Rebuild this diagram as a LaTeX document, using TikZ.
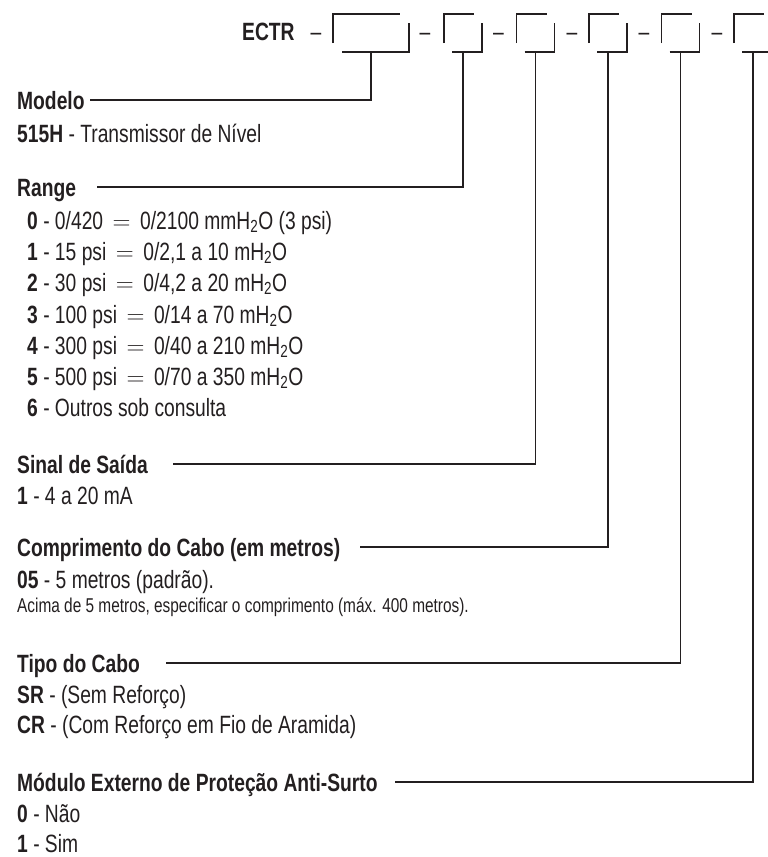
\documentclass[tikz,border=0pt]{standalone}
\usepackage{fontspec}
\setmainfont{Liberation Sans}[FakeStretch=0.77]

\definecolor{ink}{HTML}{231F20}
\newcommand{\eq}{\,$=$\,}

\tikzset{
  head/.style={anchor=west,inner sep=0pt,text height=18pt,text depth=0pt,text=ink,font=\fontsize{25}{30}\selectfont\bfseries},
  item/.style={anchor=west,inner sep=0pt,text height=18pt,text depth=0pt,text=ink,font=\fontsize{25}{30}\selectfont},
  note/.style={anchor=west,inner sep=0pt,text height=14pt,text depth=0pt,text=ink,font=\fontsize{20}{24}\selectfont},
  lead/.style={line width=1.3pt,color=ink},
  frame/.style={line width=1.5pt,color=ink}
}

\begin{document}
\begin{tikzpicture}[x=1pt,y=-1pt]
\useasboundingbox (0,0) rectangle (768,857);

% code line: ECTR - [ ] - [ ] - ...
\node[head] (ectr) at (242,31.5) {ECTR};
\foreach \i/\x in {0/316,1/425,2/498.5,3/572,4/644,5/717}
\node[item,anchor=center] (d\i) at (\x,31.5) {–};

\draw[frame] (333,43) -- (333,14) -- (400,14);
\draw[frame] (342,52) -- (409,52) -- (409,23);
\coordinate (b1) at (371,52);

\foreach \i/\x in {2/444,3/516.5,4/589,5/661.5,6/734} {
\draw[frame] (\x,43) -- (\x,14) -- (\x+30,14);
\draw[frame] (\x+8,52) -- (\x+38,52) -- (\x+38,23);
\coordinate (b\i) at (\x+19,52);
}

% fields
\node[head] (modelo) at (17,100) {Modelo};
\node[item] (m0) at (17,133) {\textbf{515H} - Transmissor de Nível};

\node[head] (range) at (17,187) {Range};
\node[item] (r0) at (27,220) {\textbf{0} - 0/420 \eq{} 0/2100 mmH\textsubscript{2}O (3 psi)};
\node[item] (r1) at (27,251) {\textbf{1} - 15 psi \eq{} 0/2,1 a 10 mH\textsubscript{2}O};
\node[item] (r2) at (27,282) {\textbf{2} - 30 psi \eq{} 0/4,2 a 20 mH\textsubscript{2}O};
\node[item] (r3) at (27,314) {\textbf{3} - 100 psi \eq{} 0/14 a 70 mH\textsubscript{2}O};
\node[item] (r4) at (27,345) {\textbf{4} - 300 psi \eq{} 0/40 a 210 mH\textsubscript{2}O};
\node[item] (r5) at (27,376) {\textbf{5} - 500 psi \eq{} 0/70 a 350 mH\textsubscript{2}O};
\node[item] (r6) at (27,407) {\textbf{6} - Outros sob consulta};

\node[head] (saida) at (17,464) {Sinal de Saída};
\node[item] (s1) at (17,495) {\textbf{1} - 4 a 20 mA};

\node[head] (cabo) at (17,547) {Comprimento do Cabo (em metros)};
\node[item] (c05) at (17,579) {\textbf{05} - 5 metros (padrão).};
\node[note] (cx) at (17,605) {Acima de 5 metros, especificar o comprimento (máx. 400 metros).};

\node[head] (tipo) at (17,663) {Tipo do Cabo};
\node[item] (sr) at (17,694) {\textbf{SR} - (Sem Reforço)};
\node[item] (cr) at (17,724) {\textbf{CR} - (Com Reforço em Fio de Aramida)};

\node[head] (surto) at (17,782) {Módulo Externo de Proteção Anti-Surto};
\node[item] (n0) at (17,813) {\textbf{0} - Não};
\node[item] (n1) at (17,843) {\textbf{1} - Sim};

% leaders from each box down to its field
\foreach \b/\n/\g in {b1/modelo/5,b2/range/21,b3/saida/25,b4/cabo/20,b5/tipo/26,b6/surto/17}
\draw[lead] (\b) |- ([xshift=\g pt]\n.east);

\end{tikzpicture}
\end{document}
